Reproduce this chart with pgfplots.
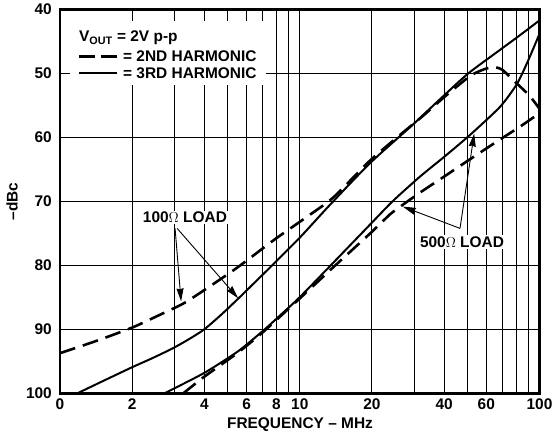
\documentclass[border=0pt]{standalone}
\usepackage{fontspec}
\setmainfont{Liberation Sans}
\usepackage{pgfplots}
\pgfplotsset{compat=1.18}
\usetikzlibrary{arrows.meta}

\begin{document}
\begin{tikzpicture}[font=\fontsize{15.5}{18}\selectfont\bfseries]
\begin{axis}[
    width=479.5bp, height=384bp, scale only axis,
    xmode=log, xmin=1, xmax=100,
    ymin=40, ymax=100, y dir=reverse,
    xtick={1,2,4,6,8,10,20,40,60,100},
    xticklabels={0,2,4,6,8,10,20,40,60,100},
    minor xtick={3,5,7,9,30,50,70,80,90},
    ytick={40,50,60,70,80,90,100},
    yticklabels={40,50,60,70,80,90,100},
    major tick length=0pt, minor tick length=0pt,
    grid=both,
    major grid style={black, line width=1.1bp},
    minor grid style={black, line width=1.1bp},
    axis line style={line width=2.2bp},
    xticklabel style={inner sep=0pt, anchor=north, yshift=-5bp},
    yticklabel style={inner sep=0pt, anchor=east, xshift=-8bp},
]
% 100 ohm load, 2nd harmonic
\addplot[black, line width=2.6bp, dash pattern=on 16bp off 8bp, smooth, tension=0.4] coordinates {
    (1,93.7) (1.413,91.8) (2,89.7) (2.61,87.7) (3.32,85.8) (4.52,82.5)
    (5.64,80.0) (7.88,75.9) (10.52,72.6) (13.77,69.4) (19.65,63.6)
    (26.2,59.6) (32.7,56.6) (40.0,53.7) (51.3,50.4) (58.2,49.4) (64.0,49.0)
    (69.8,49.4) (80.6,51.6) (90.5,53.4) (100,55.5)
};
% 100 ohm load, 3rd harmonic
\addplot[black, line width=2bp, smooth, tension=0.4] coordinates {
    (1.177,100) (1.541,97.9) (1.998,95.9) (2.42,94.5) (2.933,93.0)
    (3.42,91.6) (3.99,90.0) (4.70,87.7) (5.53,85.2) (6.51,82.6) (7.66,80.0)
    (10.03,75.6) (13.38,70.5) (19.65,64.0) (29.4,58.1) (38.5,54.0)
    (50.4,50.0) (68.5,46.3) (83.0,44.0) (100,41.7)
};
% 500 ohm load, 3rd harmonic
\addplot[black, line width=2bp, smooth, tension=0.4] coordinates {
    (2.717,100) (3.99,96.8) (5.53,93.4) (7.03,90.2) (8.28,87.8)
    (10.03,84.9) (13.77,79.6) (19.65,73.6) (24.5,69.9) (31.76,66.1)
    (40.4,62.9) (51.3,59.6) (68.5,55.2) (80.6,51.6) (89.6,48.0) (100,43.8)
};
% 500 ohm load, 2nd harmonic
\addplot[black, line width=2.6bp, dash pattern=on 16bp off 8bp, smooth, tension=0.3] coordinates {
    (3.26,100) (3.99,97.4) (5.53,93.6) (7.03,90.4) (10.03,85.1) (13.77,80.3)
    (19.65,75.0) (23.8,72.0) (26.7,70.6) (31.76,68.6) (40.4,66.0)
    (51.3,63.4) (68.5,60.3) (83.0,58.3) (100,56.2)
};
\coordinate (tl) at (axis cs:1,40);
% annotations
\node[fill=white, inner sep=1.5bp] at (axis cs:3.32,72.5) {100$\Omega$ LOAD};
\draw[line width=0.9bp, -{Stealth[length=13bp,width=7bp,inset=1bp]}] (axis cs:3.02,74.2) -- (axis cs:3.2,85.6);
\draw[line width=0.9bp, -{Stealth[length=13bp,width=7bp,inset=1bp]}] (axis cs:3.08,74.2) -- (axis cs:5.53,85.1);
\node[fill=white, inner sep=1.5bp] at (axis cs:47.5,76.4) {500$\Omega$ LOAD};
\draw[line width=0.9bp, -{Stealth[length=13bp,width=7bp,inset=1bp]}] (axis cs:46.6,74.2) -- (axis cs:26.9,70.8);
\draw[line width=0.9bp, -{Stealth[length=13bp,width=7bp,inset=1bp]}] (axis cs:46.6,74.2) -- (axis cs:53.4,59.4);
\end{axis}
% legend
\fill[white] ([xshift=10bp,yshift=-12bp]tl) rectangle ([xshift=206bp,yshift=-76bp]tl);
\node[anchor=base west, inner sep=0pt] at ([xshift=19bp,yshift=-32bp]tl) {V\textsubscript{OUT} = 2V p-p};
\draw[line width=2.6bp, dash pattern=on 16bp off 6bp] ([xshift=19bp,yshift=-47.3bp]tl) -- ++(38bp,0);
\node[anchor=base west, inner sep=0pt] at ([xshift=63bp,yshift=-52bp]tl) {= 2ND HARMONIC};
\draw[line width=2bp] ([xshift=19bp,yshift=-64bp]tl) -- ++(38bp,0);
\node[anchor=base west, inner sep=0pt] at ([xshift=63bp,yshift=-69bp]tl) {= 3RD HARMONIC};
% axis titles
\node[rotate=90, inner sep=0pt] at ([xshift=-48bp,yshift=-192bp]tl) {–dBc};
\node[inner sep=0pt] at ([xshift=240bp,yshift=-415bp]tl) {FREQUENCY – MHz};
% page size
\path ([xshift=-60bp,yshift=9.5bp]tl) rectangle ([xshift=495bp,yshift=-431.5bp]tl);
\end{tikzpicture}
\end{document}
